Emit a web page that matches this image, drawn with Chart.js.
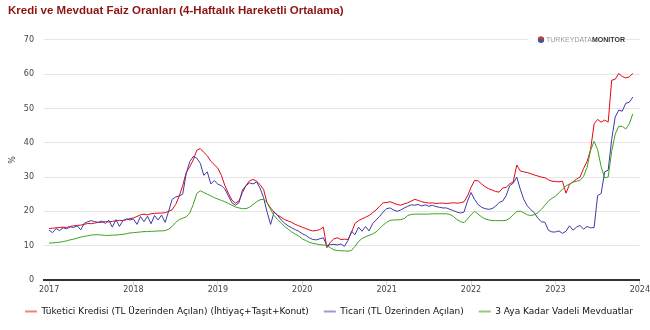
<!DOCTYPE html>
<html lang="tr">
<head>
  <meta charset="UTF-8">
  <title>Kredi ve Mevduat Faiz Oranları</title>
  <script src="https://cdn.jsdelivr.net/npm/chart.js"></script>
  <style>
    body {
      margin: 0;
      background: #fff;
    }
    .chart-box {
      width: 650px;
      height: 330px;
    }
  </style>
</head>
<body>
  <div class="chart-box">
    <canvas id="faizChart"></canvas>
  </div>

  <script>
    // iki haftalık dönemler (ayın 1'i ve 16'sı), Ocak 2017 - Aralık 2023
    const periods = [];
    for (let y = 2017; y <= 2023; y++) {
      for (let m = 1; m <= 12; m++) {
        const mm = String(m).padStart(2, '0');
        periods.push(`${y}-${mm}-01`, `${y}-${mm}-16`);
      }
    }

    const yearTicks = [2017, 2018, 2019, 2020, 2021, 2022, 2023, 2024];

    // Tüketici kredisi (TL üzerinden açılan), %
    const tuketici = [
      15.0,15.1,15.2,15.3,15.4,15.3,15.6,15.8,15.9,16.0,16.2,16.5,16.4,16.6,16.8,16.8,17.0,16.9,17.1,17.2,17.4,17.3,17.6,17.9,
      18.1,18.5,19.0,19.2,19.0,19.3,19.4,19.5,19.5,19.6,20.0,20.5,22.0,24.4,27.5,31.3,33.0,35.0,37.8,38.3,37.2,36.2,34.6,33.6,
      32.6,30.5,27.5,25.3,23.3,22.4,23.0,25.5,27.5,28.9,29.3,28.8,27.8,26.4,22.5,21.0,19.8,18.9,18.3,17.6,17.2,16.8,16.2,15.8,
      15.4,15.0,14.6,14.3,14.4,14.7,15.4,9.4,11.0,12.0,12.3,11.8,11.9,11.8,13.8,16.5,17.3,17.8,18.3,18.8,19.6,20.4,21.5,22.5,
      22.6,22.8,22.4,22.0,21.8,22.2,22.5,23.0,23.5,23.2,22.8,22.6,22.4,22.5,22.3,22.4,22.4,22.3,22.4,22.5,22.4,22.5,22.8,24.5,
      27.0,29.0,28.9,28.0,27.2,26.6,26.2,25.8,25.6,26.8,27.0,28.0,28.6,33.5,31.8,31.5,31.3,31.0,30.6,30.3,30.0,29.8,29.2,28.8,
      28.7,28.6,28.8,25.3,27.8,28.6,29.4,30.0,32.5,34.5,38.0,45.5,46.8,46.0,46.6,46.0,58.2,58.5,60.2,59.3,58.9,59.2,60.2
    ];

    // Ticari (TL üzerinden açılan), %
    const ticari = [
      14.5,13.8,15.0,14.4,15.2,14.9,15.5,15.3,15.8,14.6,16.5,17.0,17.3,17.0,16.8,17.2,16.5,17.4,15.4,17.6,15.6,17.3,17.8,17.5,
      17.8,16.2,18.5,17.0,18.6,16.4,18.8,17.5,18.9,16.8,20.0,23.5,24.2,24.5,25.0,31.0,34.5,36.0,35.5,34.0,30.5,31.5,28.0,29.0,
      27.9,27.5,26.5,24.5,22.5,21.8,22.5,26.2,27.5,28.3,28.0,28.6,26.8,24.0,19.8,16.2,19.8,18.8,17.5,16.5,15.8,15.2,14.7,14.2,
      13.5,13.0,12.3,11.8,11.7,12.0,12.3,10.0,10.3,10.4,10.2,10.5,9.8,11.5,14.2,13.2,15.4,14.2,15.6,14.3,16.4,17.5,18.5,19.8,
      20.8,21.0,20.4,20.0,20.4,21.0,21.5,21.9,21.8,22.0,21.6,21.9,21.5,21.8,21.4,21.2,21.0,21.0,20.6,20.2,19.8,19.5,19.8,23.0,
      25.5,23.5,22.0,21.2,20.8,20.6,20.8,21.5,22.6,23.0,24.6,27.5,28.2,30.0,26.5,23.5,21.6,20.5,19.6,18.0,17.0,16.8,14.5,14.0,
      14.0,14.3,13.6,14.2,15.8,14.5,15.4,15.9,14.8,15.6,15.2,15.3,24.6,25.2,31.5,32.0,41.0,47.5,49.5,49.2,51.5,51.8,53.3
    ];

    // 3 aya kadar vadeli mevduat, %
    const mevduat = [
      10.8,10.8,10.9,11.0,11.2,11.4,11.7,11.9,12.2,12.5,12.7,12.9,13.1,13.2,13.2,13.1,13.0,13.0,13.1,13.1,13.2,13.3,13.5,13.7,
      13.8,13.9,14.0,14.1,14.1,14.2,14.2,14.3,14.3,14.4,14.8,15.6,16.8,17.6,18.0,18.4,19.5,22.0,25.2,26.0,25.5,25.0,24.5,24.0,
      23.6,23.2,22.8,22.3,21.8,21.3,21.0,20.8,20.8,21.2,22.0,22.8,23.4,23.5,22.6,20.5,18.8,17.6,16.6,15.6,14.8,14.0,13.4,12.8,
      12.0,11.5,11.0,10.7,10.5,10.3,10.2,10.0,9.4,8.8,8.6,8.5,8.5,8.4,8.6,9.8,11.2,12.1,12.6,13.0,13.4,14.0,15.0,16.0,
      16.8,17.4,17.5,17.5,17.6,17.9,18.8,19.1,19.2,19.2,19.2,19.2,19.2,19.3,19.3,19.3,19.3,19.3,19.1,18.5,17.6,17.0,16.7,17.8,
      19.0,20.0,19.2,18.4,17.8,17.5,17.3,17.3,17.3,17.3,17.4,18.0,19.0,19.9,20.1,19.6,19.0,18.8,19.0,19.6,20.6,21.8,23.0,23.8,
      24.4,25.4,26.5,27.4,28.0,28.5,28.8,29.0,30.2,32.8,37.8,40.4,38.0,33.0,29.8,30.0,37.5,42.5,44.8,44.8,44.0,45.5,48.4
    ];

    const seriesNames = [
      'Tüketici Kredisi (TL Üzerinden Açılan) (İhtiyaç+Taşıt+Konut)',
      'Ticari (TL Üzerinden Açılan)',
      '3 Aya Kadar Vadeli Mevduatlar'
    ];

    const lineColors = ['#e30613', '#3b3ba8', '#3f9f1f'];
    const swatchColors = ['#ef8080', '#9a9ad6', '#90cc7a'];

    function toYear(d) {
      const [y, m, day] = d.split('-').map(Number);
      return y + (m - 1 + (day - 1) / 30) / 12;
    }

    function points(values) {
      return values.map((v, i) => ({ x: toYear(periods[i]), y: v }));
    }

    // logo + yazı, 70 çizgisinin üstünde
    const watermark = {
      id: 'watermark',
      afterDraw(chart) {
        const ctx = chart.ctx;
        const y = chart.scales.y.getPixelForValue(70);
        ctx.save();
        ctx.fillStyle = '#fff';
        ctx.fillRect(528, y - 5, 92, 10);
        ctx.beginPath();
        ctx.arc(541, y, 3.2, 0, Math.PI * 2);
        ctx.fillStyle = '#3d5a98';
        ctx.fill();
        ctx.beginPath();
        ctx.moveTo(541, y);
        ctx.arc(541, y, 3.2, Math.PI * 1.1, Math.PI * 1.9);
        ctx.fillStyle = '#d9332b';
        ctx.fill();
        ctx.textBaseline = 'middle';
        ctx.font = '7px "Liberation Sans", Arial, sans-serif';
        ctx.fillStyle = '#9a9a9a';
        ctx.fillText('TURKEYDATA', 546, y + 0.5);
        const w = ctx.measureText('TURKEYDATA').width;
        ctx.font = 'bold 7px "Liberation Sans", Arial, sans-serif';
        ctx.fillStyle = '#333';
        ctx.fillText('MONITOR', 546 + w, y + 0.5);
        ctx.restore();
      }
    };

    const tickFont = { family: 'DejaVu Sans', size: 8 };

    new Chart(document.getElementById('faizChart'), {
      type: 'line',
      data: {
        datasets: [tuketici, ticari, mevduat].map((vals, i) => ({
          label: seriesNames[i],
          data: points(vals),
          borderColor: lineColors[i],
          backgroundColor: swatchColors[i],
          borderWidth: 1,
          pointRadius: 0,
          tension: 0,
          fill: false,
          order: 3 - i
        }))
      },
      options: {
        responsive: true,
        maintainAspectRatio: false,
        animation: false,
        layout: { padding: { left: 8, right: 0, top: 4, bottom: 4 } },
        plugins: {
          tooltip: { enabled: false },
          title: {
            display: true,
            text: 'Kredi ve Mevduat Faiz Oranları (4-Haftalık Hareketli Ortalama)',
            align: 'start',
            color: '#8e1212',
            font: { family: '"Liberation Sans", Arial, sans-serif', size: 11.5, weight: 'bold' },
            padding: { top: 0, bottom: 22 }
          },
          legend: {
            position: 'bottom',
            labels: {
              boxWidth: 12,
              boxHeight: 2,
              padding: 15,
              color: '#111',
              font: { family: 'DejaVu Sans', size: 9 },
              sort: (a, b) => a.datasetIndex - b.datasetIndex,
              generateLabels(chart) {
                return Chart.defaults.plugins.legend.labels.generateLabels(chart).map(item => ({
                  ...item,
                  fillStyle: swatchColors[item.datasetIndex],
                  strokeStyle: swatchColors[item.datasetIndex],
                  lineWidth: 0
                }));
              }
            }
          }
        },
        scales: {
          x: {
            type: 'linear',
            min: 2016.94,
            max: 2024,
            afterBuildTicks(scale) {
              scale.ticks = yearTicks.map(v => ({ value: v }));
            },
            afterFit(scale) {
              scale.height = 12;
            },
            ticks: {
              font: tickFont,
              color: '#444',
              padding: 0,
              maxRotation: 0,
              autoSkip: false,
              callback: v => String(v)
            },
            grid: {
              drawOnChartArea: false,
              drawTicks: true,
              tickLength: 5,
              color: '#ccd6eb'
            },
            border: { color: '#333', width: 2 }
          },
          y: {
            min: 0,
            max: 70,
            afterFit(scale) {
              scale.width = 36;
            },
            ticks: {
              stepSize: 10,
              font: tickFont,
              color: '#444',
              padding: 10
            },
            grid: {
              color: '#e6e6e6',
              drawTicks: false
            },
            border: { display: false },
            title: {
              display: true,
              text: '%',
              font: tickFont,
              color: '#444',
              padding: { top: 0, bottom: 0 }
            }
          }
        }
      },
      plugins: [watermark]
    });
  </script>
</body>
</html>
